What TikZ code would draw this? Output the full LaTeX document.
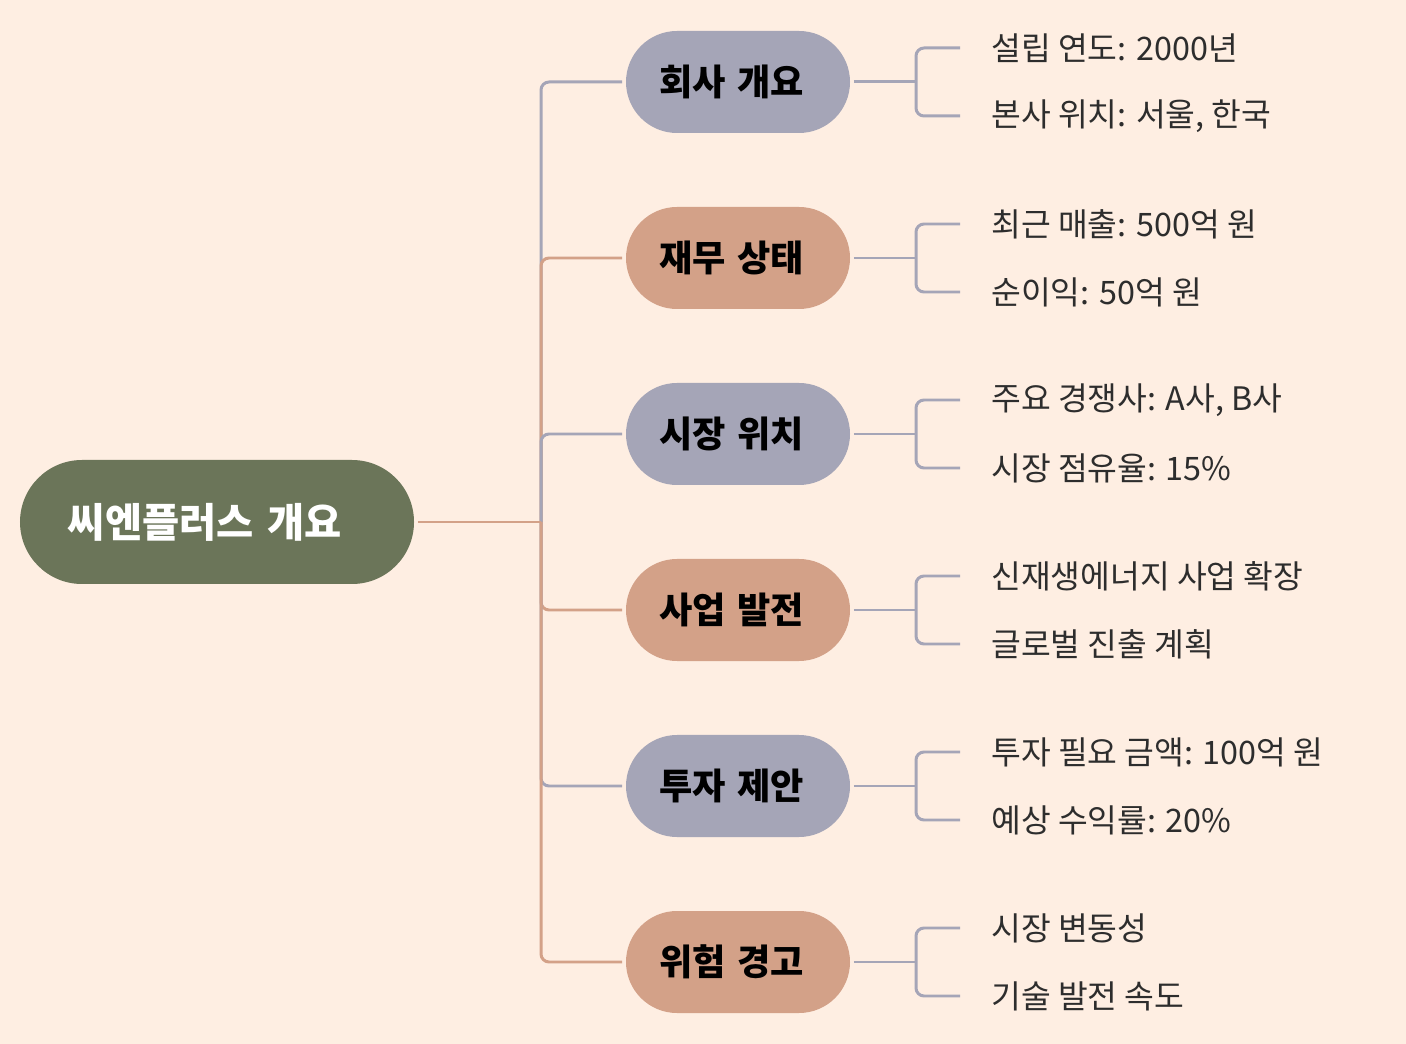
\documentclass[tikz,border=0pt]{standalone}
\usepackage{fontspec}
\setmainfont{Noto Sans CJK KR}
\usetikzlibrary{positioning}
\definecolor{bgcream}{RGB}{254,238,226}
\definecolor{slateblue}{RGB}{165,165,183}
\definecolor{claytan}{RGB}{211,161,136}
\definecolor{mossgreen}{RGB}{107,117,89}
\definecolor{leafgray}{RGB}{45,45,45}

\begin{document}
\begin{tikzpicture}[x=0.2mm, y=-0.2mm,
    rootbox/.style={rectangle, rounded corners=1.24cm, fill=mossgreen,
      minimum width=7.88cm, minimum height=2.48cm, text=white,
      text width=5.96cm, inner xsep=0.96cm, align=left,
      font=\fontsize{23}{27}\selectfont\bfseries},
    topicbox/.style={rectangle, rounded corners=1.02cm,
      minimum width=4.48cm, minimum height=2.04cm, text=black,
      text width=3.16cm, inner xsep=0.66cm, align=left,
      font=\fontsize{20.6}{24}\selectfont\bfseries},
    leaftext/.style={anchor=west, inner xsep=0.62cm, text=leafgray,
      font=\fontsize{18.4}{22}\selectfont},
    branch/.style={line width=1.7pt, rounded corners=0.16cm}]
  % background
  \fill[bgcream] (0,0) rectangle (1406,1044);

  \node[rootbox] (root) at (217,522) {씨엔플러스 개요};
  \coordinate (trunk) at (541,522);

  \foreach \name/\txt/\col/\yy/\la/\lb in {
      info/회사 개요/slateblue/82/{설립 연도: 2000년}/{본사 위치: 서울, 한국},
      money/재무 상태/claytan/258/{최근 매출: 500억 원}/{순이익: 50억 원},
      market/시장 위치/slateblue/434/{주요 경쟁사: A사, B사}/{시장 점유율: 15\%},
      growth/사업 발전/claytan/610/{신재생에너지 사업 확장}/{글로벌 진출 계획},
      invest/투자 제안/slateblue/786/{투자 필요 금액: 100억 원}/{예상 수익률: 20\%},
      risk/위험 경고/claytan/962/{시장 변동성}/{기술 발전 속도}}{
    \node[topicbox, fill=\col] (\name) at (738,\yy) {\txt};
    \draw[branch, \col] (trunk) |- ([xshift=-2pt]\name.west);
    % leaves
    \coordinate (\name-fork) at (916,\yy);
    \node[leaftext] (\name-a) at (960,\yy-34) {\la};
    \node[leaftext] (\name-b) at (960,\yy+34) {\lb};
    \draw[branch, slateblue] ([xshift=2pt]\name.east) -- (\name-fork);
    \draw[branch, slateblue] (\name-a.west) -| (\name-fork) |- (\name-b.west);
  }
  \draw[line width=1.7pt, claytan] ([xshift=2pt]root.east) -- (trunk);
\end{tikzpicture}
\end{document}
